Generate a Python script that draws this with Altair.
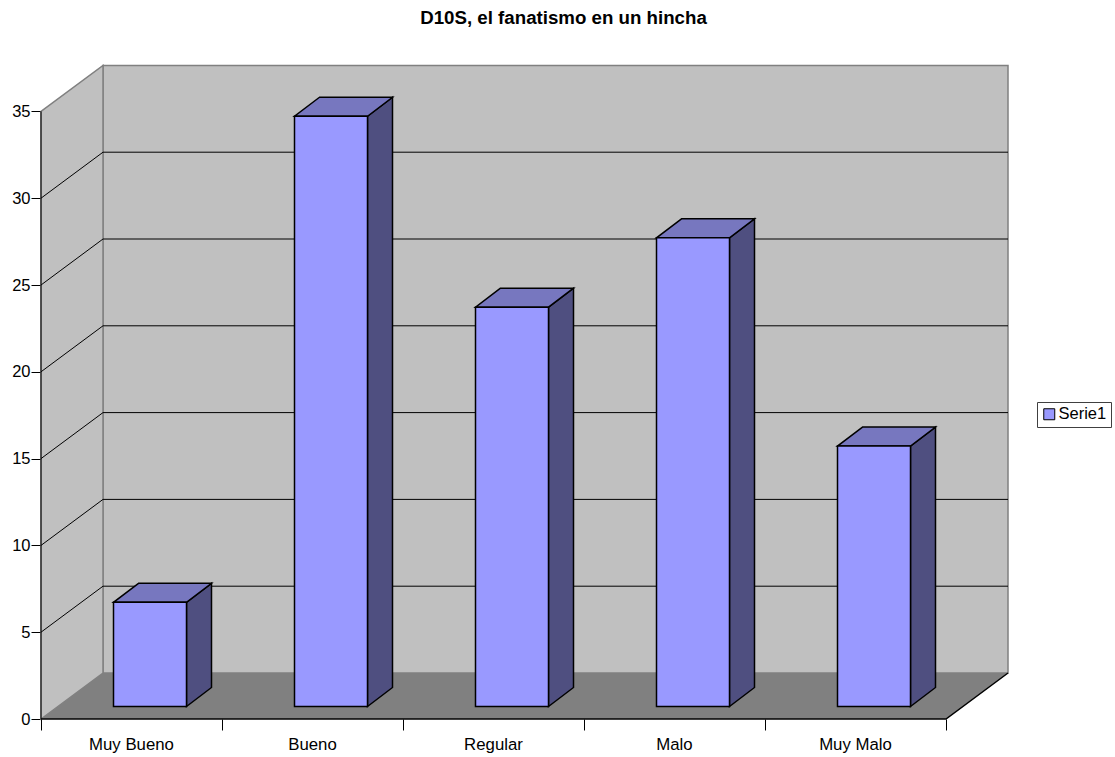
import altair as alt
import pandas as pd

categories = ["Muy Bueno", "Bueno", "Regular", "Malo", "Muy Malo"]
values = [6, 34, 23, 27, 15]
grid_values = [5, 10, 15, 20, 25, 30]
y_ticks = [0, 5, 10, 15, 20, 25, 30, 35]
boundaries = [0, 1, 2, 3, 4, 5]
series_name = "Serie1"

# Pixel layout of the plot box and the oblique projection used for the 3D look
PLOT_W, PLOT_H = 967, 653
PX_PER_CAT, PX_PER_UNIT = 181, 17.36
X_MAX = PLOT_W / PX_PER_CAT
Y_MAX = PLOT_H / PX_PER_UNIT
WALL_DX = 62 / PX_PER_CAT       # room depth, in category units
WALL_DY = 46 / PX_PER_UNIT      # room depth, in value units
BAR_LEFT = 72.5 / PX_PER_CAT
BAR_W = 73 / PX_PER_CAT
BAR_LIFT = 12.5 / PX_PER_UNIT   # bars stand part-way into the floor
BAR_DX = 25 / PX_PER_CAT
BAR_DY = 19 / PX_PER_UNIT
FONT = "Liberation Sans"

x_scale = alt.Scale(domain=[0, X_MAX], nice=False, zero=False)
y_scale = alt.Scale(domain=[0, Y_MAX], nice=False, zero=False)
X = alt.X("x:Q", scale=x_scale, title=None,
          axis=alt.Axis(values=boundaries, labels=False, grid=False, domain=False,
                        tickSize=11, tickColor="#000000", title=None))
Y = alt.Y("y:Q", scale=y_scale, title=None,
          axis=alt.Axis(values=y_ticks, domain=False, grid=False, tickSize=10,
                        tickColor="#000000", labelFont=FONT, labelFontSize=16.5,
                        labelColor="#000000", labelPadding=1, title=None))

# Room: back wall, left wall and floor
back = pd.DataFrame([{"x": WALL_DX, "x2": WALL_DX + 5, "y": WALL_DY, "y2": 35 + WALL_DY}])
back_wall = alt.Chart(back).mark_rect(fill="#C0C0C0", stroke="#808080", strokeWidth=1.5).encode(
    x=X, x2="x2:Q", y=Y, y2="y2:Q")

left = pd.DataFrame([
    {"x": 0, "y": 0, "y2": 35},
    {"x": WALL_DX, "y": WALL_DY, "y2": 35 + WALL_DY},
])
left_wall = alt.Chart(left).mark_area(fill="#C0C0C0", stroke="#808080", strokeWidth=1.5).encode(
    x=X, y=Y, y2="y2:Q")

floor_df = pd.DataFrame([
    {"y": 0, "x": 0, "x2": 5},
    {"y": WALL_DY, "x": WALL_DX, "x2": WALL_DX + 5},
])
floor = alt.Chart(floor_df).mark_area(fill="#808080", orient="horizontal").encode(
    y=Y, x=X, x2="x2:Q")

# Gridlines run along the back wall and slant down the left wall
grid_rows = []
for g in grid_values:
    grid_rows += [
        {"g": g, "o": 0, "x": 0, "y": g},
        {"g": g, "o": 1, "x": WALL_DX, "y": g + WALL_DY},
        {"g": g, "o": 2, "x": WALL_DX + 5, "y": g + WALL_DY},
    ]
grid = alt.Chart(pd.DataFrame(grid_rows)).mark_line(color="#000000", strokeWidth=1).encode(
    x=X, y=Y, detail="g:N", order="o:Q")

# Front edge of the floor and its slanted right side
edge_df = pd.DataFrame([
    {"x": 0, "y": 0},
    {"x": 5, "y": 0},
    {"x": 5 + WALL_DX, "y": WALL_DY},
])
floor_edge = alt.Chart(edge_df).mark_line(color="#000000", strokeWidth=1.5).encode(
    x=X, y=Y, order="x:Q")

# Bars: side face, top face, then front face
side_rows, top_rows, front_rows = [], [], []
for i, (c, v) in enumerate(zip(categories, values)):
    x0 = i + BAR_LEFT
    x1 = x0 + BAR_W
    side_rows += [
        {"c": c, "x": x1, "y": BAR_LIFT, "y2": v + BAR_LIFT},
        {"c": c, "x": x1 + BAR_DX, "y": BAR_LIFT + BAR_DY, "y2": v + BAR_LIFT + BAR_DY},
    ]
    top_rows += [
        {"c": c, "y": v + BAR_LIFT, "x": x0, "x2": x1},
        {"c": c, "y": v + BAR_LIFT + BAR_DY, "x": x0 + BAR_DX, "x2": x1 + BAR_DX},
    ]
    front_rows.append({"c": c, "x": x0, "x2": x1, "y": BAR_LIFT, "y2": v + BAR_LIFT, "series": series_name})

sides = alt.Chart(pd.DataFrame(side_rows)).mark_area(
    fill="#4F4F80", stroke="#000000", strokeWidth=1.5).encode(
    x=X, y=Y, y2="y2:Q", detail="c:N")
tops = alt.Chart(pd.DataFrame(top_rows)).mark_area(
    fill="#7777BF", stroke="#000000", strokeWidth=1.5, orient="horizontal").encode(
    y=Y, x=X, x2="x2:Q", detail="c:N")
fronts = alt.Chart(pd.DataFrame(front_rows)).mark_rect(
    stroke="#000000", strokeWidth=1.5).encode(
    x=X, x2="x2:Q", y=Y, y2="y2:Q",
    fill=alt.Fill("series:N",
                  scale=alt.Scale(domain=[series_name], range=["#9999FF"]),
                  legend=alt.Legend(
                      title=None, orient="none", legendX=996, legendY=336,
                      symbolType="square", symbolSize=121, symbolStrokeColor="#000000",
                      symbolStrokeWidth=1, labelFont=FONT, labelFontSize=16.5,
                      labelColor="#000000", labelOffset=1, strokeColor="#404040",
                      fillColor="#FFFFFF", padding=4)))

# Value axis post at the front-left corner
post_df = pd.DataFrame([{"x": 0, "y": 0, "y2": 35}])
post = alt.Chart(post_df).mark_rule(color="#000000", strokeWidth=1).encode(
    x=X, y=Y, y2="y2:Q")

# Category labels centred in each cell below the axis
cat_df = pd.DataFrame({"c": categories, "x": [i + 0.5 for i in range(len(categories))]})
cat_labels = alt.Chart(cat_df).mark_text(
    font=FONT, fontSize=16.8, color="#000000", baseline="middle").encode(
    x=X, y=alt.value(PLOT_H + 26), text="c:N")

chart = alt.layer(
    back_wall, floor, left_wall, grid, floor_edge,
    sides, tops, fronts, post, cat_labels,
).properties(
    width=PLOT_W,
    height=PLOT_H,
    padding={"left": 41, "top": 66, "right": 107, "bottom": 38},
    autosize=alt.AutoSizeParams(type="none"),
    background="#FFFFFF",
    title=alt.TitleParams(
        "D10S, el fanatismo en un hincha", font=FONT, fontSize=18.7,
        fontWeight="bold", color="#000000", anchor="middle", dx=39, offset=35),
).configure_view(stroke=None)

chart.save("out.html", embed_options={"renderer": "svg", "actions": False})
